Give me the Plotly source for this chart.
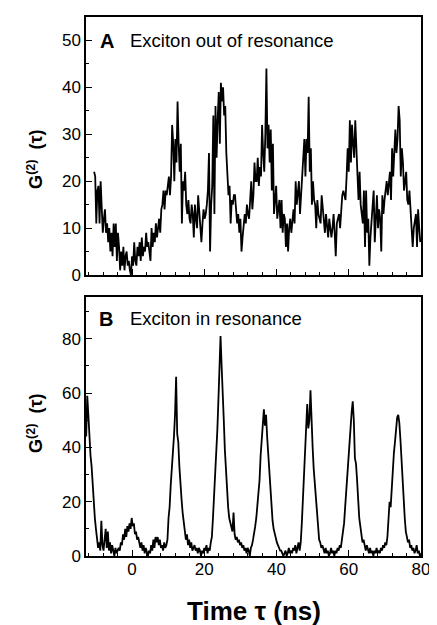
import numpy as np
import plotly.graph_objects as go

# time bins (ns)
DT = 0.3
T0_OUT = -10.5
T0_IN = -12.7

# panel A: exciton out of resonance
g2_out = [
    22, 21, 11, 18, 19, 11, 20, 12, 9, 12,
    14, 9, 11, 7, 10, 5, 9, 4, 11, 6,
    11, 3, 9, 6, 1, 5, 2, 6, 1, 4,
    5, 2, 3, 1, 0, 4, 2, 7, 3, 2,
    6, 4, 7, 3, 8, 4, 6, 5, 9, 6,
    7, 5, 3, 10, 6, 9, 7, 11, 8, 10,
    12, 9, 14, 15, 18, 14, 18, 17, 20, 21,
    17, 21, 32, 28, 20, 29, 24, 37, 28, 22,
    28, 11, 20, 18, 22, 15, 13, 16, 12, 11,
    15, 13, 8, 15, 12, 10, 17, 13, 9, 7,
    11, 14, 12, 13, 15, 18, 26, 5, 15, 19,
    34, 13, 36, 25, 33, 39, 28, 41, 37, 40,
    34, 36, 26, 22, 17, 19, 11, 16, 15, 17,
    17, 14, 11, 13, 9, 12, 5, 8, 10, 13,
    11, 15, 13, 12, 16, 20, 14, 17, 24, 20,
    20, 25, 19, 23, 21, 32, 26, 22, 30, 44,
    27, 32, 24, 31, 18, 28, 13, 16, 19, 12,
    14, 16, 10, 16, 9, 13, 12, 6, 11, 5,
    10, 12, 9, 11, 14, 11, 20, 15, 17, 20,
    13, 17, 19, 24, 29, 21, 29, 26, 38, 22,
    27, 15, 20, 16, 15, 10, 16, 13, 12, 11,
    17, 14, 13, 9, 13, 11, 8, 12, 10, 8,
    10, 13, 9, 4, 11, 12, 13, 10, 15, 17,
    18, 17, 16, 21, 27, 22, 33, 24, 32, 28,
    25, 33, 27, 24, 16, 22, 15, 13, 11, 18,
    6, 18, 9, 12, 2, 8, 12, 15, 18, 7,
    11, 17, 10, 14, 12, 5, 17, 13, 16, 18,
    20, 17, 19, 22, 16, 27, 21, 25, 31, 26,
    29, 36, 33, 21, 27, 24, 18, 20, 22, 16,
    15, 18, 14, 12, 6, 10, 12, 13, 6, 14,
    10, 7,
]

# panel B: exciton in resonance
g2_in = [
    44, 59, 52, 41, 37, 33, 25, 20, 14, 10,
    6, 3, 5, 2, 13, 4, 2, 6, 10, 3,
    9, 2, 5, 1, 4, 2, 0, 3, 1, 2,
    3, 2, 5, 4, 8, 6, 10, 7, 11, 9,
    12, 10, 14, 11, 12, 8, 9, 6, 7, 5,
    3, 5, 2, 4, 1, 3, 1, 0, 2, 1,
    4, 2, 6, 3, 7, 5, 7, 4, 6, 3,
    4, 2, 5, 3, 4, 6, 14, 18, 26, 31,
    38, 44, 52, 66, 45, 42, 33, 25, 21, 16,
    12, 9, 6, 8, 4, 6, 3, 5, 2, 3,
    4, 2, 3, 1, 3, 2, 0, 2, 1, 3,
    2, 4, 1, 3, 2, 5, 7, 14, 21, 30,
    38, 46, 57, 68, 81, 70, 62, 50, 39, 30,
    23, 18, 14, 12, 10, 9, 16, 8, 6, 7,
    5, 6, 4, 5, 3, 4, 2, 3, 1, 3,
    2, 0, 3, 4, 6, 8, 11, 14, 19, 24,
    28, 37, 44, 50, 54, 48, 52, 44, 38, 30,
    23, 18, 13, 10, 8, 6, 5, 4, 3, 2,
    2, 1, 0, 1, 2, 0, 1, 3, 1, 2,
    1, 3, 2, 4, 1, 3, 5, 2, 5, 12,
    22, 28, 36, 46, 56, 47, 50, 61, 45, 40,
    32, 26, 20, 14, 10, 6, 5, 3, 4, 2,
    1, 3, 1, 2, 0, 1, 3, 1, 2, 0,
    2, 1, 3, 2, 4, 3, 6, 8, 12, 18,
    24, 30, 37, 44, 49, 53, 57, 50, 36, 34,
    28, 20, 14, 11, 7, 5, 6, 3, 2, 4,
    2, 1, 3, 1, 2, 0, 2, 1, 3, 1,
    2, 1, 3, 2, 4, 3, 5, 4, 7, 12,
    20, 18, 26, 33, 38, 42, 48, 51, 52, 49,
    43, 35, 27, 20, 14, 9, 7, 5, 6, 3,
    4, 2, 3, 1, 2, 4, 1, 2, 0, 1,
]

t_out = np.round(T0_OUT + DT * np.arange(len(g2_out)), 2)
t_in = np.round(T0_IN + DT * np.arange(len(g2_in)), 2)

FONT = "Liberation Sans, Arial, Helvetica, sans-serif"

fig = go.Figure()
fig.add_trace(go.Scatter(x=t_out, y=g2_out, mode='lines',
                         line=dict(color='black', width=1.8),
                         xaxis='x', yaxis='y', showlegend=False))
fig.add_trace(go.Scatter(x=t_in, y=g2_in, mode='lines',
                         line=dict(color='black', width=1.8),
                         xaxis='x2', yaxis='y2', showlegend=False))

common_x = dict(range=[-12.75, 80], showline=True, mirror=True, linecolor='black',
                linewidth=1.5, ticks='inside', ticklen=6, tickwidth=1.2,
                tickcolor='black', dtick=20, tick0=0, showgrid=False, zeroline=False,
                minor=dict(dtick=4, tick0=0, ticks='inside', ticklen=3,
                           tickcolor='black', tickwidth=1.2))
common_y = dict(showline=True, mirror=True, linecolor='black', linewidth=1.5,
                ticks='inside', ticklen=6, tickwidth=1.2, tickcolor='black',
                showgrid=False, zeroline=False,
                tickfont=dict(size=17, color='black'))

# page body adds an 8px offset, so the figure is 8px smaller than the window
fig.update_layout(
    width=429, height=617, autosize=False,
    margin=dict(l=78, r=12, t=7, b=69),
    paper_bgcolor='white', plot_bgcolor='white',
    font=dict(family=FONT, color='black'),
    xaxis=dict(common_x, domain=[0, 1], anchor='y', showticklabels=False),
    yaxis=dict(common_y, domain=[0.5213, 1.0], anchor='x', range=[0, 55],
               dtick=10, minor=dict(dtick=5, ticks='inside', ticklen=3,
                                    tickcolor='black', tickwidth=1.2)),
    xaxis2=dict(common_x, domain=[0, 1], anchor='y2', showticklabels=True,
                ticklabelstandoff=-3,
                tickfont=dict(size=17, color='black')),
    yaxis2=dict(common_y, domain=[0, 0.4806], anchor='x2', range=[0, 95.4],
                dtick=20, minor=dict(dtick=10, ticks='inside', ticklen=3,
                                     tickcolor='black', tickwidth=1.2)),
)

annots = [
    dict(text='<b>A</b>', x=0.036, y=0.907, xref='x domain', yref='y domain',
         xanchor='left', yanchor='middle', font=dict(size=20)),
    dict(text='Exciton out of resonance', x=0.124, y=0.907, xref='x domain', yref='y domain',
         xanchor='left', yanchor='middle', font=dict(size=18.5)),
    dict(text='<b>B</b>', x=0.034, y=0.915, xref='x2 domain', yref='y2 domain',
         xanchor='left', yanchor='middle', font=dict(size=20)),
    dict(text='Exciton in resonance', x=0.124, y=0.915, xref='x2 domain', yref='y2 domain',
         xanchor='left', yanchor='middle', font=dict(size=18.5)),
    dict(text='<b>G<sup>(2)</sup>  (τ)</b>', x=-0.151, y=(556 - 158) / 541, xref='paper', yref='paper',
         textangle=-90, xanchor='center', yanchor='middle', font=dict(size=18)),
    dict(text='<b>G<sup>(2)</sup>  (τ)</b>', x=-0.151, y=(556 - 423) / 541, xref='paper', yref='paper',
         textangle=-90, xanchor='center', yanchor='middle', font=dict(size=18)),
    dict(text='<b>Time τ (ns)</b>', x=0.5, y=(556 - 611) / 541, xref='paper', yref='paper',
         xanchor='center', yanchor='middle', font=dict(size=26)),
]
for a in annots:
    a['showarrow'] = False
    fig.add_annotation(**a)

fig.write_html("out.html")
